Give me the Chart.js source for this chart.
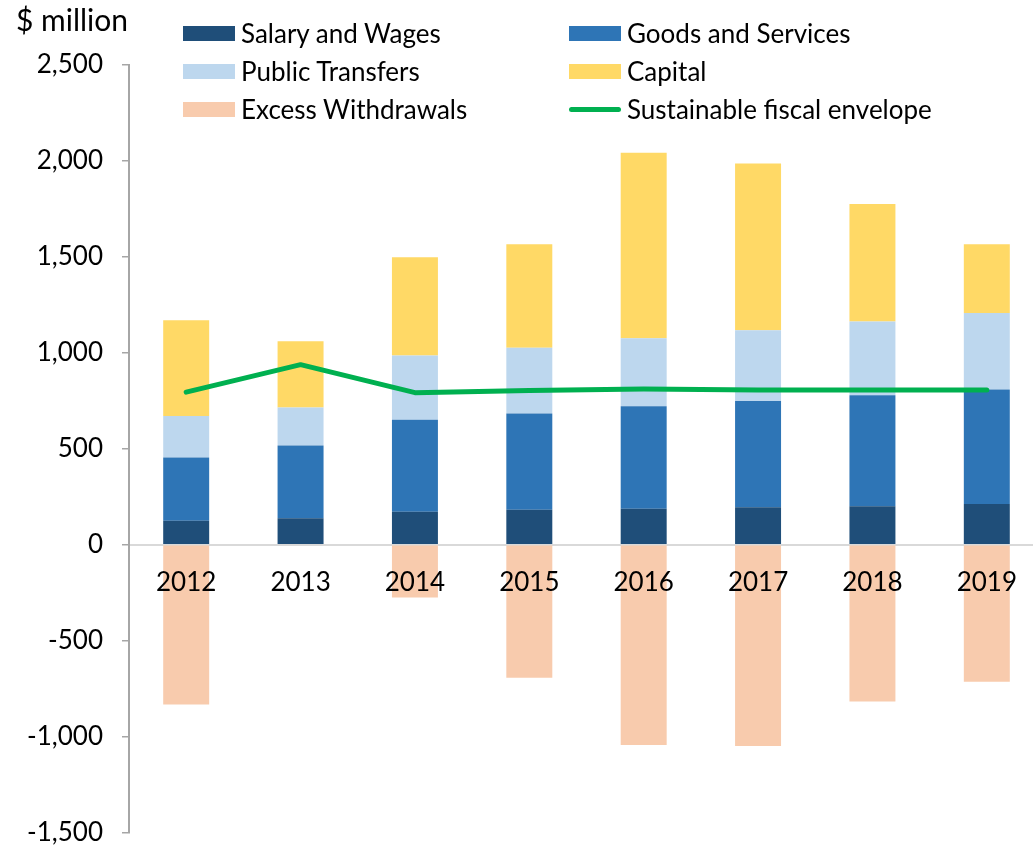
<!DOCTYPE html>
<html>
<head>
<meta charset="utf-8">
<script src="https://cdn.jsdelivr.net/npm/chart.js@4"></script>
<style>
  body { margin: 0; background: #fff; }
  #wrap { position: relative; width: 1033px; height: 846px; overflow: hidden; }
  #legend { position: absolute; left: 183px; top: 14px; display: grid;
            grid-template-columns: 386px 400px; row-gap: 0; font-family: Lato, sans-serif;
            font-size: 26px; color: #000; }
  .item { display: flex; align-items: center; height: 38px; }
  .swatch { width: 52px; height: 15px; margin-right: 6px; flex: none; }
  .swatch.line { height: 5px; border-radius: 3px; }
</style>
</head>
<body>
<div id="wrap">
  <canvas id="chart" width="1060" height="867"></canvas>
  <div id="legend"></div>
</div>
<script>
const years = ["2012", "2013", "2014", "2015", "2016", "2017", "2018", "2019"];
const salaryWages = [125, 137, 172, 182, 187, 195, 200, 212];
const goodsServices = [329, 380, 479, 501, 534, 554, 578, 596];
const publicTransfers = [216, 198, 335, 343, 355, 368, 385, 399];
const capital = [499, 345, 512, 540, 967, 870, 612, 359];
const excessWithdrawals = [-833, null, -275, -694, -1044, -1049, -818, -715];
const fiscalEnvelope = [795, 938, 792, 804, 811, 806, 806, 806];

const FONT = "Lato, sans-serif";

function barSet(label, data, color) {
  return {
    type: "bar",
    label: label,
    data: data,
    backgroundColor: color,
    stack: "spend",
    order: 1,
    categoryPercentage: 1,
    barPercentage: 0.402,
  };
}

// "$ million" sits above the axis, beside the legend
const unitLabel = {
  id: "unitLabel",
  afterDraw(chart) {
    const ctx = chart.ctx;
    ctx.save();
    ctx.font = "30px " + FONT;
    ctx.fillStyle = "#000";
    ctx.textBaseline = "alphabetic";
    ctx.fillText("$ million", 16, 31);
    ctx.restore();
  },
};

const config = {
  data: {
    labels: years,
    datasets: [
      barSet("Salary and Wages", salaryWages, "#1F4E79"),
      barSet("Goods and Services", goodsServices, "#2E75B6"),
      barSet("Public Transfers", publicTransfers, "#BDD7EE"),
      barSet("Capital", capital, "#FFD966"),
      barSet("Excess Withdrawals", excessWithdrawals, "#F8CBAD"),
      {
        type: "line",
        label: "Sustainable fiscal envelope",
        data: fiscalEnvelope,
        borderColor: "#00B050",
        borderWidth: 5,
        borderCapStyle: "round",
        borderJoinStyle: "round",
        pointRadius: 0,
        tension: 0,
        stack: "line",
        order: 0,
      },
    ],
  },
  options: {
    responsive: false,
    animation: false,
    layout: { padding: { top: 65, left: 0, right: 16, bottom: 0 } },
    plugins: {
      legend: { display: false },
      tooltip: { enabled: false },
    },
    scales: {
      x: {
        stacked: true,
        position: { y: 0 },
        grid: { display: false, drawTicks: false },
        border: { display: true, color: "#D9D9D9", width: 2 },
        ticks: { z: 1, color: "#000", font: { family: FONT, size: 26 }, padding: 22 },
      },
      y: {
        stacked: true,
        min: -1500,
        max: 2500,
        afterFit(scale) { scale.width = 129; },
        grid: { drawOnChartArea: false, drawTicks: true, tickLength: 7, color: "#A6A6A6", lineWidth: 1.5 },
        border: { color: "#A6A6A6", width: 2 },
        ticks: {
          stepSize: 500,
          padding: 19,
          color: "#000",
          font: { family: FONT, size: 26 },
          callback: (v) => v.toLocaleString("en-US"),
        },
      },
    },
  },
  plugins: [unitLabel],
};

const chart = new Chart("chart", config);

// two-column legend, built from the datasets
const legendEl = document.getElementById("legend");
chart.data.datasets.forEach((ds) => {
  const item = document.createElement("div");
  item.className = "item";
  const sw = document.createElement("span");
  sw.className = ds.type === "line" ? "swatch line" : "swatch";
  sw.style.background = ds.type === "line" ? ds.borderColor : ds.backgroundColor;
  const txt = document.createElement("span");
  txt.textContent = ds.label;
  item.appendChild(sw);
  item.appendChild(txt);
  legendEl.appendChild(item);
});
</script>
</body>
</html>
